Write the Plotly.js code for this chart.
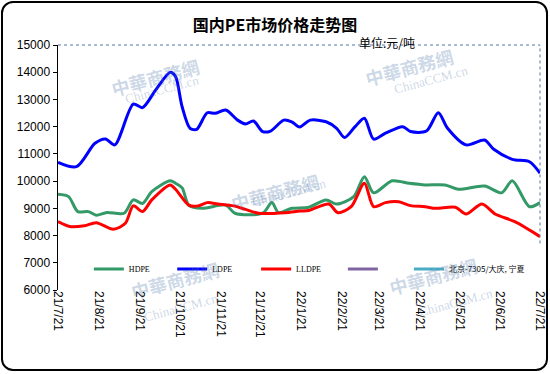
<!DOCTYPE html>
<html>
<head>
<meta charset="utf-8">
<script src="https://cdn.plot.ly/plotly-3.0.1.min.js"></script>
<style>
  html, body { margin: 0; padding: 0; background: #fff; }
  #wrap { position: relative; width: 550px; height: 374px; }
  #chart { width: 550px; height: 374px; }
  #frame { position: absolute; left: 1px; top: 1px; width: 543px; height: 366px;
           border: 2px solid #000; border-radius: 12px; pointer-events: none; }
</style>
</head>
<body>
<div id="wrap"><div id="chart"></div><div id="frame"></div></div>
<script>
// ---- data ----
const ldpeDates = ["2021-07-21","2021-08-04","2021-08-18","2021-08-26","2021-09-02","2021-09-16","2021-09-23","2021-10-03","2021-10-14","2021-10-18","2021-10-23","2021-10-29","2021-11-03","2021-11-11","2021-11-17","2021-11-25","2021-12-04","2021-12-10","2021-12-16","2021-12-23","2021-12-29","2022-01-08","2022-01-14","2022-01-20","2022-01-28","2022-02-09","2022-02-17","2022-02-23","2022-03-03","2022-03-10","2022-03-17","2022-03-26","2022-04-08","2022-04-14","2022-04-26","2022-05-05","2022-05-12","2022-05-26","2022-06-09","2022-06-16","2022-06-30","2022-07-13","2022-07-21"];
const ldpeValues = [10690,10530,11390,11550,11330,12830,12700,13350,14000,13840,12730,11940,11900,12510,12490,12610,12240,12100,12210,11820,11840,12240,12180,11990,12240,12180,11940,11600,12000,12310,11540,11760,12000,11820,11840,12510,11940,11330,11510,11170,10800,10710,10290];

const hdpeDates = ["2021-07-21","2021-07-29","2021-08-05","2021-08-13","2021-08-19","2021-08-27","2021-09-09","2021-09-16","2021-09-23","2021-09-30","2021-10-14","2021-10-18","2021-10-23","2021-10-28","2021-11-07","2021-11-25","2021-12-02","2021-12-23","2021-12-30","2022-01-04","2022-01-14","2022-01-27","2022-02-09","2022-02-17","2022-03-02","2022-03-10","2022-03-17","2022-03-31","2022-04-13","2022-04-25","2022-05-10","2022-05-20","2022-06-09","2022-06-22","2022-06-30","2022-07-13","2022-07-21"];
const hdpeValues = [9515,9430,8880,8880,8750,8850,8820,9310,9180,9610,10010,9920,9750,9120,9000,9120,8820,8820,9210,8840,9000,9040,9310,9160,9430,10160,9570,10010,9920,9860,9860,9700,9820,9570,10010,9060,9210];

const lldpeDates = ["2021-07-21","2021-07-30","2021-08-10","2021-08-19","2021-09-01","2021-09-10","2021-09-16","2021-09-23","2021-09-30","2021-10-14","2021-10-18","2021-10-28","2021-11-04","2021-11-11","2021-11-19","2021-12-01","2021-12-10","2021-12-20","2022-01-09","2022-01-20","2022-01-27","2022-02-11","2022-02-18","2022-02-28","2022-03-10","2022-03-17","2022-03-26","2022-04-05","2022-04-14","2022-04-25","2022-05-03","2022-05-18","2022-05-26","2022-06-07","2022-06-17","2022-07-02","2022-07-21"];
const lldpeValues = [8510,8330,8360,8470,8230,8450,9090,8880,9310,9860,9700,9120,9090,9210,9160,9090,8960,8820,8840,8900,8920,9160,8840,9060,9920,9060,9210,9240,9100,9060,9000,9040,8790,9160,8790,8510,7960];

const seriesNames = ["HDPE","LDPE","LLDPE","","北京-7305/大庆, 宁夏"];
const seriesColors = ["#339966","#0000ff","#ff0000","#8064a2","#4bacc6"];

const tickDates = ["2021-07-21","2021-08-21","2021-09-21","2021-10-21","2021-11-21","2021-12-21","2022-01-21","2022-02-21","2022-03-21","2022-04-21","2022-05-21","2022-06-21","2022-07-21"];
const tickLabels = ["21/7/21","21/8/21","21/9/21","21/10/21","21/11/21","21/12/21","22/1/21","22/2/21","22/3/21","22/4/21","22/5/21","22/6/21","22/7/21"];
const yTicks = [6000,7000,8000,9000,10000,11000,12000,13000,14000,15000];

const legendIds = ["legend","legend2","legend3","legend4","legend5"];

const lineTrace = (x, y, i) => ({
  x: x, y: y, type: "scatter", mode: "lines", name: seriesNames[i],
  line: {color: seriesColors[i], width: 3, shape: "spline", smoothing: 0.8},
  legend: legendIds[i], hoverinfo: "skip"
});

const traces = [
  lineTrace(hdpeDates, hdpeValues, 0),
  lineTrace(ldpeDates, ldpeValues, 1),
  lineTrace(lldpeDates, lldpeValues, 2),
  lineTrace([tickDates[0]], [null], 3),
  lineTrace([tickDates[0]], [null], 4)
];

const wmFont = {family: "Noto Sans CJK TC", size: 18, color: "rgba(80,120,170,0.30)"};
const wmFont2 = {family: "Liberation Serif", size: 13, color: "rgba(80,120,170,0.30)"};
function wm(px, py) {
  return [
    {xref: "paper", yref: "paper", x: px, y: py, text: "<b>中華商務網</b>", showarrow: false, font: wmFont, textangle: -15},
    {xref: "paper", yref: "paper", x: px + 0.03, y: py - 0.08, text: "ChinaCCM.cn", showarrow: false, font: wmFont2, textangle: -15}
  ];
}

function legendAt(px, fam) {
  return {orientation: "h", x: px, xanchor: "left", y: 0.086, yanchor: "middle",
          bgcolor: "rgba(0,0,0,0)", borderwidth: 0,
          font: {family: fam, size: 8, color: "#000"}, itemclick: false};
}

const layout = {
  width: 550, height: 374,
  margin: {l: 58, r: 10, t: 45, b: 84},
  paper_bgcolor: "#ffffff", plot_bgcolor: "#ffffff",
  title: {text: "<b>国内PE市场价格走势图</b>", x: 0.5, xanchor: "center", y: 0.933, yanchor: "middle",
          font: {family: "Noto Sans CJK SC", size: 16, color: "#000"}},
  xaxis: {
    type: "date", range: ["2021-07-21", "2022-07-21"],
    tickvals: tickDates, ticktext: tickLabels, tickangle: 90,
    showgrid: false, zeroline: false, showline: false, ticks: "",
    tickfont: {family: "Liberation Sans", size: 12, color: "#000"}, fixedrange: true
  },
  yaxis: {
    range: [6000, 15000], tickvals: yTicks, tickformat: "d", ticks: "outside", ticklen: 4, tickcolor: "#000",
    showline: true, linecolor: "#000", linewidth: 1.5, showgrid: false, zeroline: false,
    tickfont: {family: "Liberation Sans", size: 12, color: "#000"}
  },
  showlegend: true,
  legend: legendAt(0.064, "Liberation Serif"),
  legend2: legendAt(0.237, "Liberation Serif"),
  legend3: legendAt(0.411, "Liberation Serif"),
  legend4: legendAt(0.591, "Liberation Serif"),
  legend5: legendAt(0.728, "Noto Sans CJK SC"),
  shapes: [
    {type: "line", xref: "paper", yref: "paper", x0: 0, x1: 1, y0: 1, y1: 1,
     line: {color: "#5577aa", width: 1, dash: "dot"}},
    {type: "line", xref: "paper", yref: "paper", x0: 1, x1: 1, y0: 0.19, y1: 1,
     line: {color: "#5577aa", width: 1, dash: "dot"}}
  ],
  annotations: [
    {xref: "paper", yref: "paper", x: 0.62, y: 1.01, xanchor: "left", yanchor: "middle",
     text: "单位:元/吨", showarrow: false, font: {family: "Noto Sans CJK SC", size: 12, color: "#000"}}
  ].concat(wm(0.1, 0.98), wm(0.45, 0.40), wm(0.83, 1.02), wm(0.14, -0.07), wm(0.88, -0.05))
};

Plotly.newPlot("chart", traces, layout, {displayModeBar: false, staticPlot: true});
</script>
</body>
</html>
